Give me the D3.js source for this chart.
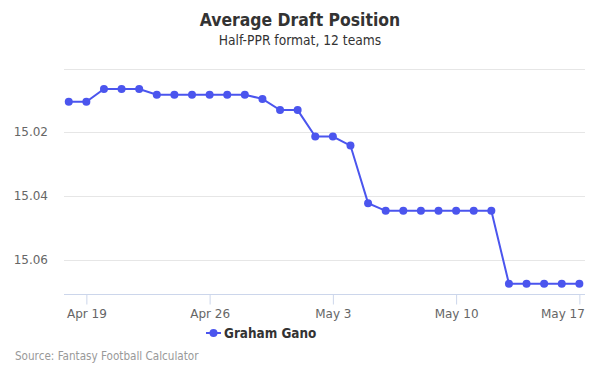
<!DOCTYPE html>
<html>
<head>
<meta charset="utf-8">
<script src="https://cdn.jsdelivr.net/npm/d3@7"></script>
<style>
  body { margin: 0; background: #fff; }
  text { font-family: "DejaVu Sans", sans-serif; }
  .narrow { font-family: "DejaVu Sans Condensed", "DejaVu Sans", sans-serif; }
</style>
</head>
<body>
<div id="chart"></div>
<script>
// data, one value per day Apr 18 .. May 17
let start_date = "2019-04-18";
let adp_values = [
    15.0104, 15.0104, 15.0064, 15.0064, 15.0064, 15.0082, 15.0082, 15.0082,
    15.0082, 15.0082, 15.0082, 15.0095, 15.0130, 15.0130, 15.0213, 15.0213,
    15.0241, 15.0421, 15.0445, 15.0445, 15.0445, 15.0445, 15.0445, 15.0445,
    15.0445, 15.0673, 15.0673, 15.0673, 15.0673, 15.0673
];
let y_ticks = [15.00, 15.02, 15.04, 15.06];
let x_tick_labels = ["Apr 19", "Apr 26", "May 3", "May 10", "May 17"];
let series_name = "Graham Gano";

let width = 600;
let height = 375;
let plot_left = 64;
let plot_right = 585;
let plot_top = 68.5;
let plot_bottom = 294.3;
let line_color = "#4b55ee";
let day_ms = 86400000;

let parse = d3.timeParse("%Y-%m-%d");
let first_day = parse(start_date);
let points = adp_values.map(function(v, i) {
    return {date: new Date(first_day.getTime() + i*day_ms), value: v};
});
let last_day = points[points.length-1].date;

let svg = d3.select("#chart").append("svg")
    .attr("width", width)
    .attr("height", height);

let x = d3.scaleTime()
    .domain([new Date(first_day.getTime() - 0.27*day_ms), new Date(last_day.getTime() + 0.32*day_ms)])
    .range([plot_left, plot_right]);

// reversed: smaller pick number on top
let y = d3.scaleLinear()
    .domain([15.00, 15.0706])
    .range([plot_top, plot_bottom]);

// titles
svg.append("text")
    .classed("narrow", true)
    .attr("x", width/2).attr("y", 26)
    .attr("text-anchor", "middle")
    .style("font-size", "17.4px").style("font-weight", "bold")
    .style("fill", "#333")
    .text("Average Draft Position");
svg.append("text")
    .classed("narrow", true)
    .attr("x", width/2).attr("y", 45)
    .attr("text-anchor", "middle")
    .style("font-size", "13.7px")
    .style("fill", "#333")
    .text("Half-PPR format, 12 teams");

// grid lines
svg.append("g").selectAll("line")
    .data(y_ticks)
    .enter()
    .append("line")
    .attr("x1", plot_left).attr("x2", plot_right)
    .attr("y1", d => Math.round(y(d)) + 0.5)
    .attr("y2", d => Math.round(y(d)) + 0.5)
    .attr("stroke", "#e6e6e6");

// y labels, first one hidden like in the original
svg.append("g").selectAll("text")
    .data(y_ticks.slice(1))
    .enter()
    .append("text")
    .attr("x", 48)
    .attr("y", d => y(d) + 4)
    .attr("text-anchor", "end")
    .style("font-size", "12px")
    .style("fill", "#666")
    .text(d => d3.format(".2f")(d));

// x axis
let tick_dates = x_tick_labels.map(function(s) {
    return d3.timeParse("%b %d %Y")(s + " 2019");
});
let x_axis = d3.axisBottom(x)
    .tickValues(tick_dates)
    .tickFormat(d3.timeFormat("%b %-d"))
    .tickSize(10)
    .tickPadding(5);
let xg = svg.append("g")
    .attr("transform", "translate(0," + (Math.round(plot_bottom) + 0.5) + ")")
    .call(x_axis);
xg.select(".domain").attr("stroke", "#ccd6eb").attr("d", "M" + plot_left + ",0H" + plot_right);
xg.selectAll(".tick line").attr("stroke", "#ccd6eb");
xg.selectAll(".tick text")
    .style("font-family", "DejaVu Sans, sans-serif")
    .style("font-size", "12px")
    .style("fill", "#666");
// last label would run off the edge, pull it inside like the original
xg.selectAll(".tick:last-of-type text").attr("text-anchor", "end").attr("x", 5);

// series
let line = d3.line()
    .x(d => x(d.date))
    .y(d => y(d.value));
svg.append("path")
    .datum(points)
    .attr("d", line)
    .attr("fill", "none")
    .attr("stroke", line_color)
    .attr("stroke-width", 2);
svg.append("g").selectAll("circle")
    .data(points)
    .enter()
    .append("circle")
    .attr("cx", d => x(d.date))
    .attr("cy", d => y(d.value))
    .attr("r", 4)
    .attr("fill", line_color);

// legend
let legend = svg.append("g").attr("transform", "translate(0,333)");
legend.append("line")
    .attr("x1", 206).attr("x2", 221)
    .attr("stroke", line_color).attr("stroke-width", 2);
legend.append("circle")
    .attr("cx", 213.5).attr("r", 4)
    .attr("fill", line_color);
legend.append("text")
    .classed("narrow", true)
    .attr("x", 224).attr("y", 4.5)
    .style("font-size", "13.4px").style("font-weight", "bold")
    .style("fill", "#333")
    .text(series_name);

// credits
svg.append("text")
    .classed("narrow", true)
    .attr("x", 15).attr("y", 360)
    .style("font-size", "11.6px")
    .style("fill", "#999")
    .text("Source: Fantasy Football Calculator");
</script>
</body>
</html>
